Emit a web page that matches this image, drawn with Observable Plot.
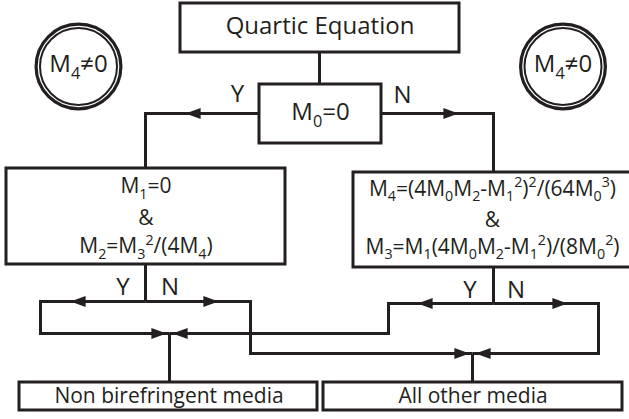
<!DOCTYPE html>
<html><head><meta charset="utf-8">
<script src="https://cdn.jsdelivr.net/npm/d3@7"></script>
<script src="https://cdn.jsdelivr.net/npm/@observablehq/plot@0.6"></script>
<style>html,body{margin:0;padding:0;background:#fff;} svg{display:block}</style>
</head><body><div id="chart"></div>
<script>
// ---- diagram content (node layout in diagram units) ----
const boxes = [
  {name: "quartic", x1: 180, y1: 3,   x2: 459, y2: 52},
  {name: "m0",      x1: 259, y1: 84,  x2: 381, y2: 143},
  {name: "left",    x1: 6,   y1: 168, x2: 285, y2: 264},
  {name: "right",   x1: 353, y1: 172, x2: 632, y2: 267},
  {name: "nonbi",   x1: 19,  y1: 382, x2: 317, y2: 410},
  {name: "other",   x1: 323, y1: 382, x2: 622, y2: 410}
];
const headLabels = [
  {text: "Quartic Equation", x: 319.5, y: 26},
  {text: "M_0=0", x: 320, y: 112},
  {text: "M_4≠0", x: 78, y: 64},
  {text: "M_4≠0", x: 562.5, y: 64}
];
const boxLabels = [
  {text: "M_1=0", x: 145.5, y: 186},
  {text: "&", x: 145.5, y: 217.5},
  {text: "M_2=M_3^2/(4M_4)", x: 145.5, y: 246},
  {text: "M_4=(4M_0M_2-M_1^2)^2/(64M_0^3)", x: 492, y: 188.5},
  {text: "&", x: 492, y: 219.5},
  {text: "M_3=M_1(4M_0M_2-M_1^2)/(8M_0^2)", x: 492, y: 246.5},
  {text: "Non birefringent media", x: 168.5, y: 395.5},
  {text: "All other media", x: 472.5, y: 395.5}
];
const branchLabels = [
  {text: "Y", x: 237, y: 94}, {text: "N", x: 402, y: 95},
  {text: "Y", x: 122.5, y: 286.5}, {text: "N", x: 169.5, y: 286.5},
  {text: "Y", x: 469.5, y: 290}, {text: "N", x: 515.5, y: 290}
];
const badges = [{x: 78, y: 66}, {x: 562.5, y: 66}];
const connectors = [
  {id: "q-m0",    pts: [[319, 52], [319, 84]]},
  {id: "m0-Y",    pts: [[259, 113], [145, 113], [145, 168]]},
  {id: "m0-N",    pts: [[381, 113], [493, 113], [493, 172]]},
  {id: "L-down",  pts: [[145, 264], [145, 301]]},
  {id: "L-Y",     pts: [[145, 301], [40, 301], [40, 333], [169, 333]]},
  {id: "L-N",     pts: [[145, 301], [250, 301], [250, 353], [472, 353]]},
  {id: "R-down",  pts: [[493, 267], [493, 303]]},
  {id: "R-Y",     pts: [[493, 303], [388, 303], [388, 333], [169, 333]]},
  {id: "R-N",     pts: [[493, 303], [598, 303], [598, 353], [472, 353]]},
  {id: "merge-1", pts: [[169, 333], [169, 382]]},
  {id: "merge-2", pts: [[472, 353], [472, 382]]}
];
const arrowheads = [
  {x: 185, y: 113, dir: "left"},  {x: 458, y: 113, dir: "right"},
  {x: 70,  y: 301, dir: "left"},  {x: 218, y: 301, dir: "right"},
  {x: 166, y: 333, dir: "right"}, {x: 172, y: 333, dir: "left"},
  {x: 417, y: 303, dir: "left"},  {x: 567, y: 303, dir: "right"},
  {x: 469, y: 353, dir: "right"}, {x: 475, y: 353, dir: "left"}
];

// ---- drawing ----
const ink = "#231f20";
const linePts = connectors.flatMap(c => c.pts.map(([x, y]) => ({id: c.id, x, y})));
const arrowSymbol = {
  draw(ctx, size) {
    const r = Math.sqrt(size / Math.PI);
    ctx.moveTo(0, 0);
    ctx.lineTo(-2.75 * r, -r);
    ctx.lineTo(-2.75 * r, r);
    ctx.closePath();
  }
};

const chart = Plot.plot({
  width: 629, height: 419, margin: 0,
  x: {domain: [0, 629], range: [0, 629], axis: null},
  y: {domain: [0, 419], range: [0, 419], axis: null},
  style: {fontFamily: "'Open Sans', sans-serif", background: "white", overflow: "hidden"},
  marks: [
    Plot.line(linePts, {x: "x", y: "y", z: "id", stroke: ink, strokeWidth: 3,
      strokeLinejoin: "miter", strokeLinecap: "butt", strokeMiterlimit: 4}),
    Plot.rect(boxes, {x1: "x1", y1: "y1", x2: "x2", y2: "y2", fill: "white", stroke: ink, strokeWidth: 3}),
    Plot.dot(badges, {x: "x", y: "y", r: 42.4, stroke: ink, strokeWidth: 3.2, fill: "white"}),
    Plot.dot(badges, {x: "x", y: "y", r: 38.5, stroke: ink, strokeWidth: 2, fill: "none"}),
    Plot.dot(arrowheads, {x: "x", y: "y", symbol: arrowSymbol, r: 5.5, fill: ink, stroke: "none",
      rotate: d => d.dir === "left" ? 180 : 0}),
    Plot.text(headLabels, {x: "x", y: "y", text: "text", fontSize: 24, fill: ink}),
    Plot.text(boxLabels, {x: "x", y: "y", text: "text", fontSize: 21, fill: ink}),
    Plot.text(branchLabels, {x: "x", y: "y", text: "text", fontSize: 24, fill: ink})
  ]
});
document.getElementById("chart").appendChild(chart);

// sub/superscript markup: _x => subscript, ^x => superscript
const NS = "http://www.w3.org/2000/svg";
chart.querySelectorAll("text").forEach(t => {
  const s = t.textContent;
  if (!/[_^]/.test(s)) return;
  const fs = parseFloat(getComputedStyle(t).fontSize);
  const pieces = [];
  let i = 0;
  while (i < s.length) {
    if (s[i] === "_" || s[i] === "^") { pieces.push({txt: s[i + 1], mode: s[i]}); i += 2; }
    else { let j = i; while (j < s.length && s[j] !== "_" && s[j] !== "^") j++; pieces.push({txt: s.slice(i, j), mode: ""}); i = j; }
  }
  t.textContent = "";
  let shift = 0;
  for (const p of pieces) {
    const target = p.mode === "_" ? fs * 0.27 : p.mode === "^" ? -fs * 0.4 : 0;
    const ts = document.createElementNS(NS, "tspan");
    if (target !== shift) ts.setAttribute("dy", (target - shift).toFixed(2));
    shift = target;
    if (p.mode) ts.setAttribute("font-size", (fs * 0.68).toFixed(2));
    ts.textContent = p.txt;
    t.appendChild(ts);
  }
});
</script></body></html>
